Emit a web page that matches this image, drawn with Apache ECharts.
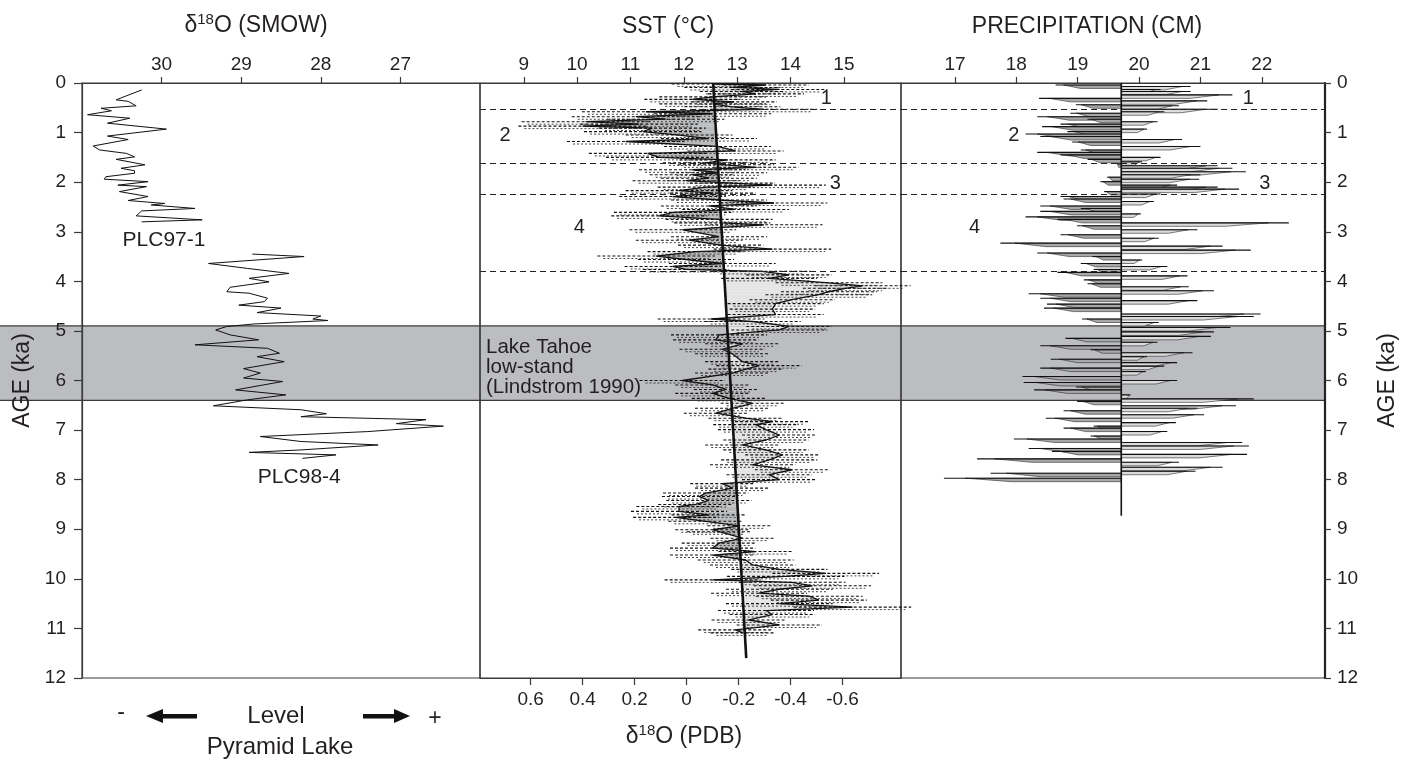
<!DOCTYPE html>
<html>
<head>
<meta charset="utf-8">
<script src="https://cdn.jsdelivr.net/npm/echarts@6/dist/echarts.min.js"></script>
<style>
  html, body { margin: 0; padding: 0; background: #fff; }
  #chart { width: 1411px; height: 760px; }
</style>
</head>
<body>
<div id="chart"></div>
<script>
const FONT = "'Liberation Sans', Arial, sans-serif"
const INK = '#231f20'

// Pyramid Lake d18O (SMOW), two cores
const plc97Age = [0.14, 0.27, 0.34, 0.37, 0.46, 0.51, 0.56, 0.64, 0.71, 0.81, 0.93, 1.07, 1.14, 1.27, 1.35, 1.42, 1.49, 1.54, 1.65, 1.72, 1.77, 1.82, 1.89, 1.94, 1.99, 2.06, 2.09, 2.19, 2.29, 2.37, 2.43, 2.46, 2.53, 2.58, 2.68, 2.76, 2.80]
const plc97Val = [30.25, 30.46, 30.57, 30.42, 30.32, 30.76, 30.63, 30.93, 30.40, 30.68, 29.94, 30.68, 30.42, 30.86, 30.78, 30.44, 30.34, 30.57, 30.21, 30.51, 30.34, 30.34, 30.70, 30.72, 30.17, 30.55, 30.19, 30.53, 30.17, 30.42, 29.96, 30.13, 29.58, 30.25, 30.32, 29.49, 30.25]
const plc98Age = [3.45, 3.50, 3.64, 3.74, 3.84, 3.94, 4.01, 4.12, 4.21, 4.24, 4.34, 4.41, 4.48, 4.54, 4.63, 4.70, 4.76, 4.79, 4.86, 4.91, 4.98, 5.08, 5.18, 5.28, 5.35, 5.45, 5.52, 5.62, 5.76, 5.85, 5.95, 6.02, 6.19, 6.29, 6.39, 6.51, 6.59, 6.67, 6.73, 6.79, 6.87, 6.92, 7.03, 7.13, 7.23, 7.30, 7.40, 7.45, 7.50, 7.57]
const plc98Val = [28.86, 28.21, 29.41, 28.92, 28.40, 28.90, 28.65, 29.14, 29.18, 28.90, 28.67, 28.71, 29.03, 28.50, 28.80, 28.00, 28.10, 27.91, 28.84, 29.18, 29.32, 29.14, 28.78, 29.58, 28.67, 28.52, 28.80, 28.46, 28.97, 28.76, 28.97, 28.48, 29.07, 28.44, 28.92, 29.35, 28.25, 27.93, 28.25, 26.68, 27.05, 26.46, 27.41, 28.76, 28.25, 27.28, 28.25, 28.90, 27.81, 28.23]

// SST (deg C) with calibration error half-widths
const sstAge = [0.02, 0.04, 0.09, 0.13, 0.17, 0.22, 0.28, 0.33, 0.38, 0.42, 0.48, 0.53, 0.58, 0.62, 0.68, 0.73, 0.78, 0.83, 0.87, 0.91, 0.98, 1.05, 1.12, 1.18, 1.28, 1.37, 1.42, 1.50, 1.55, 1.61, 1.65, 1.70, 1.75, 1.81, 1.85, 1.92, 1.97, 2.02, 2.06, 2.10, 2.17, 2.22, 2.29, 2.36, 2.42, 2.48, 2.55, 2.61, 2.68, 2.75, 2.82, 2.86, 2.96, 3.10, 3.17, 3.27, 3.35, 3.40, 3.49, 3.56, 3.64, 3.70, 3.76, 3.80, 3.87, 3.94, 4.03, 4.09, 4.14, 4.21, 4.27, 4.37, 4.45, 4.56, 4.67, 4.76, 4.81, 4.91, 4.98, 5.08, 5.18, 5.26, 5.37, 5.46, 5.62, 5.70, 5.77, 5.85, 6.00, 6.09, 6.18, 6.26, 6.36, 6.46, 6.56, 6.66, 6.76, 6.83, 6.89, 6.99, 7.10, 7.20, 7.30, 7.40, 7.50, 7.60, 7.70, 7.80, 7.90, 8.00, 8.08, 8.17, 8.27, 8.34, 8.42, 8.50, 8.54, 8.64, 8.71, 8.76, 8.84, 8.93, 9.01, 9.05, 9.18, 9.28, 9.38, 9.45, 9.52, 9.62, 9.72, 9.81, 9.89, 9.95, 10.02, 10.07, 10.14, 10.21, 10.29, 10.35, 10.43, 10.50, 10.57, 10.64, 10.72, 10.83, 10.93, 11.03, 11.09]
const sstVal = [12.57, 13.54, 12.91, 13.79, 13.10, 13.35, 12.54, 12.16, 12.94, 12.54, 12.91, 13.50, 11.29, 12.54, 11.10, 11.66, 10.16, 11.16, 10.10, 11.41, 11.23, 11.91, 12.47, 10.91, 12.63, 12.97, 11.32, 11.54, 12.82, 12.41, 12.79, 13.35, 12.16, 12.66, 12.16, 12.47, 12.04, 12.91, 13.66, 12.41, 11.91, 12.54, 11.79, 12.66, 13.69, 12.47, 12.97, 11.79, 11.54, 12.66, 12.72, 13.50, 11.98, 12.66, 12.10, 12.69, 13.66, 12.22, 11.48, 12.04, 12.72, 11.79, 12.04, 13.47, 13.97, 13.60, 14.72, 15.35, 15.03, 14.72, 14.53, 14.03, 13.72, 13.66, 13.72, 12.51, 13.29, 13.97, 13.79, 12.66, 12.60, 13.10, 12.72, 12.91, 13.10, 13.41, 13.16, 12.91, 11.97, 12.54, 12.79, 12.54, 12.85, 13.29, 12.91, 12.60, 13.16, 13.66, 13.35, 13.54, 13.79, 13.54, 13.10, 13.54, 13.85, 13.60, 13.29, 14.03, 13.60, 13.79, 12.72, 12.91, 12.41, 12.29, 12.47, 12.22, 11.91, 11.91, 12.47, 11.85, 12.41, 13.04, 12.54, 12.66, 13.10, 12.66, 12.54, 13.35, 12.54, 13.16, 13.29, 13.79, 14.66, 13.91, 12.54, 14.03, 14.41, 13.79, 13.41, 14.35, 14.53, 13.79, 15.16, 13.54, 13.66, 13.22, 13.79, 12.97, 13.10]
const sstErr = [0.8, 0.8, 0.9, 0.9, 0.8, 0.9, 1.0, 0.9, 0.8, 1.0, 0.9, 1.0, 1.2, 1.1, 1.2, 1.1, 1.2, 1.1, 1.2, 1.0, 1.1, 1.0, 0.9, 1.1, 1.0, 0.9, 1.1, 1.0, 0.9, 0.8, 0.9, 0.8, 1.0, 0.9, 0.8, 0.9, 1.0, 0.8, 1.0, 0.9, 1.0, 0.8, 1.0, 0.9, 1.0, 0.9, 1.0, 1.1, 0.9, 1.0, 0.9, 1.1, 1.0, 0.9, 1.0, 0.8, 1.1, 0.9, 1.1, 0.9, 1.0, 0.9, 0.8, 0.9, 0.8, 0.9, 1.0, 0.9, 0.8, 0.9, 1.0, 0.8, 0.9, 0.8, 0.9, 1.0, 0.9, 0.8, 0.9, 0.9, 0.8, 0.7, 0.8, 0.7, 0.7, 0.8, 0.7, 0.7, 0.8, 0.7, 0.6, 0.7, 0.7, 0.6, 0.7, 0.6, 0.7, 0.7, 0.8, 0.9, 0.7, 0.8, 0.7, 0.8, 0.7, 0.9, 0.8, 0.7, 0.8, 0.7, 0.6, 0.7, 0.8, 0.7, 0.8, 0.7, 0.8, 0.9, 0.7, 0.8, 0.7, 0.6, 0.7, 0.6, 0.6, 0.7, 0.8, 0.7, 0.8, 0.9, 0.8, 0.9, 1.0, 1.1, 0.9, 1.0, 1.1, 1.0, 0.9, 1.0, 0.9, 1.0, 1.1, 0.9, 0.8, 0.7, 0.8, 0.7, 0.6]
const trendAge = [0, 11.6]
const trendSst = [12.55, 13.17]

// Precipitation (cm) and its mean
const prAge = [0.04, 0.07, 0.13, 0.17, 0.24, 0.31, 0.36, 0.44, 0.46, 0.53, 0.58, 0.61, 0.68, 0.73, 0.78, 0.83, 0.88, 0.93, 0.98, 1.03, 1.08, 1.14, 1.19, 1.28, 1.35, 1.40, 1.45, 1.50, 1.54, 1.59, 1.63, 1.67, 1.72, 1.79, 1.85, 1.90, 1.94, 1.99, 2.06, 2.10, 2.14, 2.19, 2.24, 2.29, 2.34, 2.39, 2.48, 2.53, 2.59, 2.64, 2.70, 2.75, 2.82, 2.88, 2.96, 3.06, 3.13, 3.23, 3.29, 3.37, 3.43, 3.50, 3.57, 3.64, 3.70, 3.76, 3.82, 3.89, 3.97, 4.05, 4.11, 4.19, 4.25, 4.34, 4.39, 4.46, 4.54, 4.66, 4.71, 4.76, 4.83, 4.93, 5.02, 5.11, 5.15, 5.23, 5.30, 5.38, 5.44, 5.52, 5.57, 5.64, 5.71, 5.75, 5.82, 5.92, 6.00, 6.04, 6.13, 6.19, 6.29, 6.37, 6.42, 6.51, 6.56, 6.61, 6.69, 6.76, 6.85, 6.92, 6.96, 7.03, 7.12, 7.18, 7.25, 7.32, 7.37, 7.43, 7.49, 7.58, 7.65, 7.75, 7.83, 7.87, 7.97]
const prVal = [18.64, 20.84, 20.35, 20.84, 21.52, 18.37, 21.11, 18.97, 20.65, 21.28, 20.41, 18.88, 18.34, 19.16, 20.30, 18.72, 18.42, 20.13, 18.83, 18.15, 18.39, 20.70, 18.91, 21.00, 19.05, 18.34, 18.72, 20.35, 19.16, 20.05, 19.64, 21.28, 21.52, 21.74, 21.00, 19.48, 20.98, 19.37, 20.62, 21.28, 21.63, 19.43, 20.35, 18.72, 18.77, 20.24, 18.39, 19.05, 18.39, 20.03, 18.15, 18.67, 22.44, 18.99, 20.95, 18.72, 20.32, 17.74, 21.36, 21.82, 18.34, 19.24, 20.05, 19.05, 20.46, 19.26, 18.67, 20.79, 19.10, 19.16, 20.81, 21.22, 18.20, 18.39, 20.95, 18.50, 18.45, 21.98, 21.87, 19.07, 20.32, 21.49, 21.22, 21.17, 18.80, 20.30, 18.39, 19.21, 20.87, 20.13, 18.56, 20.62, 20.41, 18.39, 20.11, 18.10, 20.62, 18.12, 18.97, 18.29, 19.86, 21.87, 18.99, 21.58, 20.95, 18.77, 21.06, 18.48, 20.60, 19.26, 18.77, 20.46, 19.21, 17.96, 21.68, 21.79, 18.20, 18.58, 21.76, 17.36, 20.65, 21.36, 20.92, 17.58, 16.82]
const prMean = 19.71
const prMeanAge = [0, 8.73]

// Zone boundaries, Tahoe low-stand, zone numbers
const zoneBounds = [0.53, 1.62, 2.24, 3.79]
const bandAges = [4.9, 6.4]
const zoneNames = ['1', '2', '3', '4']
const sstZoneX = [14.67, 8.65, 14.84, 10.04]
const prZoneX = [21.78, 17.96, 22.05, 17.32]
const zoneAge = [0.32, 1.06, 2.02, 2.92]
const coreNames = ['PLC97-1', 'PLC98-4']
const coreLabelX = [29.97, 28.27]
const coreLabelAge = [3.17, 7.96]

// Tick labels
const smowTicks = [27, 28, 29, 30]
const sstTicks = [9, 10, 11, 12, 13, 14, 15]
const pdbTicks = [0.6, 0.4, 0.2, 0, -0.2, -0.4, -0.6]
const prTicks = [17, 18, 19, 20, 21, 22]

const pairs = (xs, ys) => xs.map((x, i) => [x, ys[i]])
const trendAt = a => trendSst[0] + (trendSst[1] - trendSst[0]) * (a - trendAge[0]) / (trendAge[1] - trendAge[0])

const chart = echarts.init(document.getElementById('chart'))

const gridBase = { top: 83, height: 595, show: true, borderColor: '#3a3a3a', borderWidth: 1.2, backgroundColor: 'transparent' }
const tickFont = { fontSize: 19, color: INK, fontFamily: FONT }

const topAxis = function (grid, min, max, ticks, inverse) {
  return {
    type: 'value', gridIndex: grid, position: 'top', min: min, max: max, inverse: !!inverse,
    splitLine: { show: false },
    axisLine: { show: true, lineStyle: { color: '#3a3a3a', width: 1.2 } },
    axisTick: { show: true, inside: false, length: 6, customValues: ticks, lineStyle: { color: '#3a3a3a', width: 1.2 } },
    axisLabel: Object.assign({ margin: 9, customValues: ticks }, tickFont)
  }
}

const ageAxis = function (grid, pos, showIt) {
  return {
    type: 'value', gridIndex: grid, position: pos, min: 0, max: 12, interval: 1, inverse: true,
    splitLine: { show: false },
    name: showIt ? 'AGE (ka)' : '',
    nameLocation: 'middle',
    nameGap: pos === 'left' ? 48 : 51,
    nameTextStyle: { fontSize: 23, color: INK, fontFamily: FONT },
    axisLine: { show: showIt, lineStyle: { color: pos === 'right' ? '#222' : '#3a3a3a', width: pos === 'right' ? 2.2 : 1.2 } },
    axisTick: { show: showIt, length: pos === 'left' ? 8 : 6, lineStyle: { color: '#3a3a3a', width: 1.2 } },
    axisLabel: Object.assign({ show: showIt, margin: pos === 'left' ? 16 : 12 }, tickFont)
  }
}

const zoneMarkLine = {
  silent: true,
  symbol: 'none',
  label: { show: false },
  lineStyle: { color: '#222', type: [6, 4], width: 1 },
  data: zoneBounds.map(v => ({ yAxis: v }))
}

const labelSeries = function (xi, yi, xs, ages, names, size) {
  return {
    type: 'scatter', xAxisIndex: xi, yAxisIndex: yi, symbolSize: 1, silent: true, z: 6,
    itemStyle: { color: 'rgba(0,0,0,0)' },
    data: xs.map((x, i) => [x, ages[i], names[i]]),
    label: {
      show: true, position: 'inside', formatter: p => p.data[2],
      fontSize: size, color: INK, fontFamily: FONT, opacity: 1,
      textBorderWidth: 0, textShadowBlur: 0
    },
    emphasis: { disabled: true },
    markLine: xi === 0 ? undefined : zoneMarkLine
  }
}

const option = {
  animation: false,
  backgroundColor: '#fff',
  grid: [
    Object.assign({ left: 82, width: 398 }, gridBase),
    Object.assign({ left: 480, width: 421 }, gridBase),
    Object.assign({ left: 901, width: 424 }, gridBase)
  ],
  xAxis: [
    topAxis(0, 26, 31, smowTicks, true),
    topAxis(1, 8.18, 16.07, sstTicks, false),
    {
      type: 'value', gridIndex: 1, position: 'bottom', min: -0.825, max: 0.795, inverse: true,
      splitLine: { show: false },
      axisLine: { show: true, lineStyle: { color: '#3a3a3a', width: 1.2 } },
      axisTick: { show: true, length: 7, customValues: pdbTicks, lineStyle: { color: '#3a3a3a', width: 1.2 } },
      axisLabel: Object.assign({ margin: 12, customValues: pdbTicks }, tickFont)
    },
    topAxis(2, 16.12, 23.03, prTicks, false)
  ],
  yAxis: [
    ageAxis(0, 'left', true),
    ageAxis(1, 'left', false),
    ageAxis(2, 'right', true)
  ],
  series: [
    // left panel: Pyramid Lake cores
    {
      type: 'line', xAxisIndex: 0, yAxisIndex: 0, data: pairs(plc97Val, plc97Age),
      symbol: 'none', lineStyle: { color: '#111', width: 1 }, z: 4
    },
    {
      type: 'line', xAxisIndex: 0, yAxisIndex: 0, data: pairs(plc98Val, plc98Age),
      symbol: 'none', lineStyle: { color: '#111', width: 1 }, z: 4
    },
    labelSeries(0, 0, coreLabelX, coreLabelAge, coreNames, 21),

    // middle panel: SST fill relative to the trend line
    {
      type: 'custom', xAxisIndex: 1, yAxisIndex: 1, z: 2, silent: true,
      data: pairs(sstVal, sstAge),
      renderItem: function (params, api) {
        const i = params.dataIndex
        if (i >= sstAge.length - 1) return null
        const a0 = sstAge[i], a1 = sstAge[i + 1]
        const v0 = sstVal[i], v1 = sstVal[i + 1]
        const t0 = trendAt(a0), t1 = trendAt(a1)
        const d0 = v0 - t0, d1 = v1 - t1
        const warm = '#e4e4e5', cool = '#b9babc'
        const poly = (pts, d) => ({
          type: 'polygon',
          shape: { points: pts.map(p => api.coord(p)) },
          style: { fill: d >= 0 ? warm : cool, stroke: null }
        })
        if (d0 * d1 >= 0) {
          return poly([[t0, a0], [v0, a0], [v1, a1], [t1, a1]], d0 + d1)
        }
        const t = d0 / (d0 - d1)
        const ac = a0 + t * (a1 - a0)
        const vc = trendAt(ac)
        return {
          type: 'group',
          children: [
            poly([[t0, a0], [v0, a0], [vc, ac]], d0),
            poly([[vc, ac], [v1, a1], [t1, a1]], d1)
          ]
        }
      }
    },
    // SST error bars
    {
      type: 'custom', xAxisIndex: 1, yAxisIndex: 1, z: 3, silent: true,
      data: sstAge.map((a, i) => [sstVal[i], a, sstErr[i]]),
      renderItem: function (params, api) {
        const v = api.value(0), a = api.value(1), e = api.value(2)
        const p0 = api.coord([v - e, a])
        const p1 = api.coord([v + e, a])
        return {
          type: 'group',
          children: [
            { type: 'line', shape: { x1: p0[0], y1: p0[1], x2: p1[0], y2: p1[1] },
              style: { stroke: '#111', lineWidth: 1.1, lineDash: [3, 2] } },
            { type: 'line', shape: { x1: p0[0] + 6, y1: p0[1] + 2.5, x2: p1[0] - 6, y2: p1[1] + 2.5 },
              style: { stroke: '#333', lineWidth: 0.9, lineDash: [2, 2] } }
          ]
        }
      }
    },
    {
      type: 'line', xAxisIndex: 1, yAxisIndex: 1, data: pairs(sstVal, sstAge),
      symbol: 'none', lineStyle: { color: '#111', width: 1.3 }, z: 4
    },
    {
      type: 'line', xAxisIndex: 1, yAxisIndex: 1, data: pairs(trendSst, trendAge),
      symbol: 'none', lineStyle: { color: '#111', width: 2.6 }, z: 5
    },
    labelSeries(1, 1, sstZoneX, zoneAge, zoneNames, 20),

    // right panel: precipitation anomalies around the mean
    {
      type: 'custom', xAxisIndex: 3, yAxisIndex: 2, z: 3, silent: true,
      data: pairs(prVal, prAge),
      renderItem: function (params, api) {
        const v = api.value(0), a = api.value(1)
        const m = api.coord([prMean, a])
        const p = api.coord([v, a])
        const dx = p[0] - m[0]
        return {
          type: 'group',
          children: [
            {
              type: 'polygon',
              shape: { points: [[m[0], m[1]], [m[0] + 0.88 * dx, m[1]], [m[0] + 0.62 * dx, m[1] + 3.5], [m[0], m[1] + 3.5]] },
              style: { fill: dx < 0 ? '#a7a8aa' : '#dcdcdd', stroke: '#2a2a2a', lineWidth: 0.6 }
            },
            { type: 'line', shape: { x1: m[0], y1: m[1], x2: p[0], y2: p[1] },
              style: { stroke: '#111', lineWidth: 1.1 } }
          ]
        }
      }
    },
    {
      type: 'line', xAxisIndex: 3, yAxisIndex: 2, data: prMeanAge.map(a => [prMean, a]),
      symbol: 'none', lineStyle: { color: '#111', width: 1.6 }, z: 5
    },
    labelSeries(3, 2, prZoneX, zoneAge, zoneNames, 20)
  ]
}

chart.setOption(option)

// Lake Tahoe low-stand band, placed through the age axis
const yTop = chart.convertToPixel({ yAxisIndex: 0 }, bandAges[0])
const yBot = chart.convertToPixel({ yAxisIndex: 0 }, bandAges[1])
const xRight = chart.convertToPixel({ xAxisIndex: 3 }, 23.03)

const txt = function (x, y, text, size, extra) {
  return Object.assign({
    type: 'text', x: x, y: y, z: 10, silent: true,
    style: { text: text, fontSize: size, fontFamily: FONT, fill: INK, align: 'center', verticalAlign: 'middle' }
  }, extra || {})
}
const supRich = {
  n: { fontSize: 23, fontFamily: FONT, color: INK, lineHeight: 28 },
  s: { fontSize: 15, fontFamily: FONT, color: INK, verticalAlign: 'top', lineHeight: 28, padding: [0, 0, 0, 0] }
}
const richTitle = function (x, y, text) {
  return {
    type: 'text', x: x, y: y, z: 10, silent: true,
    style: { text: text, rich: supRich, fontFamily: FONT, fill: INK, align: 'center', verticalAlign: 'middle' }
  }
}

chart.setOption({
  graphic: [
    { type: 'rect', z: -1, silent: true, shape: { x: 0, y: yTop, width: xRight, height: yBot - yTop }, style: { fill: '#bcbdc0' } },
    { type: 'line', z: -1, silent: true, shape: { x1: 0, y1: yTop, x2: xRight, y2: yTop }, style: { stroke: '#3a3a3a', lineWidth: 1.2 } },
    { type: 'line', z: -1, silent: true, shape: { x1: 0, y1: yBot, x2: xRight, y2: yBot }, style: { stroke: '#3a3a3a', lineWidth: 1.2 } },

    richTitle(256, 26, '{n|δ}{s|18}{n|O (SMOW)}'),
    txt(668, 27, 'SST (°C)', 23),
    txt(1087, 27, 'PRECIPITATION (CM)', 23),
    richTitle(684, 737, '{n|δ}{s|18}{n|O (PDB)}'),

    {
      type: 'text', x: 486, y: 337, z: 10, silent: true,
      style: { text: 'Lake Tahoe\nlow-stand\n(Lindstrom 1990)', fontSize: 20.5, lineHeight: 20, fontFamily: FONT, fill: INK, align: 'left', verticalAlign: 'top' }
    },

    txt(121, 713, '-', 23),
    { type: 'polygon', silent: true, shape: { points: [[146, 716], [163, 709], [163, 723]] }, style: { fill: '#111' } },
    { type: 'rect', silent: true, shape: { x: 160, y: 714, width: 37, height: 4.5 }, style: { fill: '#111' } },
    txt(276, 716, 'Level', 24),
    { type: 'rect', silent: true, shape: { x: 363, y: 714, width: 34, height: 4.5 }, style: { fill: '#111' } },
    { type: 'polygon', silent: true, shape: { points: [[410, 716], [394, 709], [394, 723]] }, style: { fill: '#111' } },
    txt(435, 719, '+', 23),
    txt(280, 747, 'Pyramid Lake', 24)
  ]
})
</script>
</body>
</html>
